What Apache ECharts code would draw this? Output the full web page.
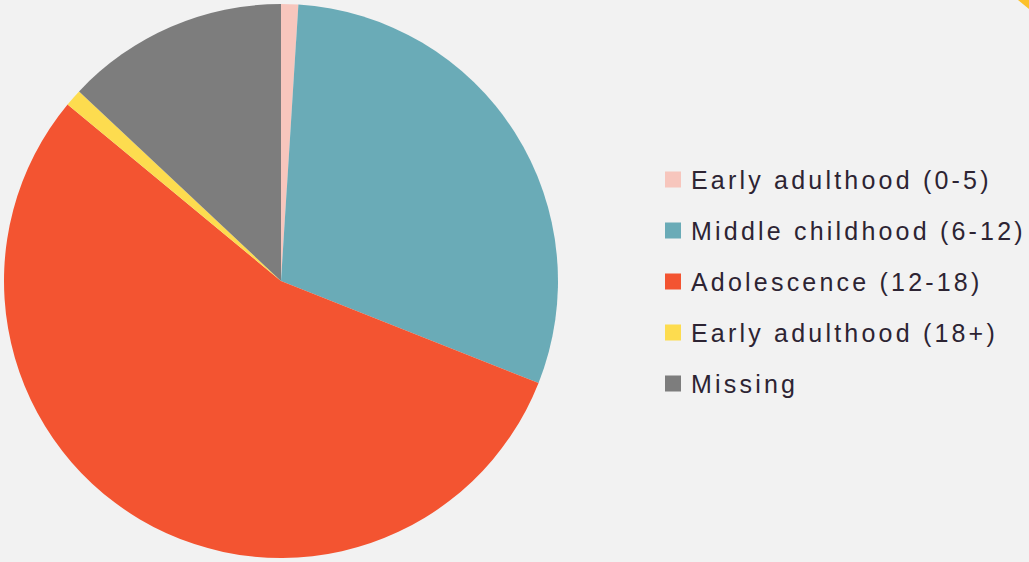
<!DOCTYPE html>
<html>
<head>
<meta charset="utf-8">
<script src="https://cdn.jsdelivr.net/npm/echarts@6/dist/echarts.min.js"></script>
<style>
  html, body { margin: 0; padding: 0; background: #f2f2f2; }
  #chart { width: 1029px; height: 562px; }
  /* legend labels are set with a looser tracking */
  #chart svg text { letter-spacing: 3.2px; }
</style>
</head>
<body>
<div id="chart"></div>
<script>
// Age groups and their shares (%)
const categories = [
  'Early adulthood (0-5)',
  'Middle childhood (6-12)',
  'Adolescence (12-18)',
  'Early adulthood (18+)',
  'Missing'
];
const values = [1, 30, 55, 1, 13];
const colors = ['#f7c6bd', '#6aabb7', '#f35431', '#fddc4f', '#7d7d7d'];

const chart = echarts.init(document.getElementById('chart'), null, { renderer: 'svg' });
chart.setOption({
  backgroundColor: '#f2f2f2',
  animation: false,
  color: colors,
  legend: {
    orient: 'vertical',
    left: 665,
    top: 167,
    padding: 0,
    itemWidth: 16,
    itemHeight: 16,
    itemGap: 26,
    icon: 'rect',
    textStyle: {
      fontFamily: 'Liberation Sans, Arial, sans-serif',
      fontSize: 25,
      color: '#2d2433',
      padding: [0, 0, 0, 5]
    },
    data: categories
  },
  // small accent in the top-right corner
  graphic: [{
    type: 'polygon',
    shape: { points: [[1018, 0], [1029, 0], [1029, 9]] },
    style: { fill: '#fcc12b' },
    silent: true
  }],
  series: [{
    type: 'pie',
    center: [281, 281],
    radius: [0, 277],
    startAngle: 90,
    clockwise: true,
    label: { show: false },
    labelLine: { show: false },
    itemStyle: { borderWidth: 0 },
    emphasis: { disabled: true },
    data: categories.map((name, i) => ({ name, value: values[i] }))
  }]
});
</script>
</body>
</html>
